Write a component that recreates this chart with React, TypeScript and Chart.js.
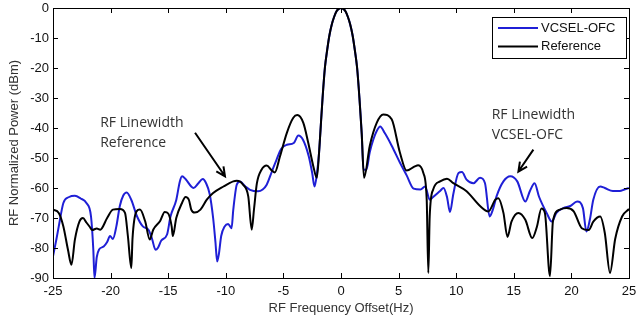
import React, { useEffect, useRef } from "react";
import { Chart, registerables } from "chart.js";

Chart.register(...registerables);

const xTicks = [-25, -20, -15, -10, -5, 0, 5, 10, 15, 20, 25];
const yTicks = [0, -10, -20, -30, -40, -50, -60, -70, -80, -90];

const blueX = [-25, -24.7, -24.5, -24.1, -23.6, -23.1, -22.6, -22.1, -21.7, -21.5, -21.4, -21.2, -21.0, -20.6, -20.3, -20.05, -19.8, -19.5, -19.2, -18.9, -18.6, -18.2, -17.7, -17.2, -16.7, -16.4, -16.1, -15.9, -15.6, -15.1, -14.8, -14.3, -14.0, -13.8, -13.5, -13.0, -12.8, -12.4, -12.0, -11.7, -11.4, -11.1, -10.9, -10.75, -10.6, -10.4, -10.1, -9.8, -9.5, -9.35, -9.05, -8.77, -8.3, -7.9, -7.2, -6.8, -6.45, -6.0, -5.6, -5.2, -4.7, -4.1, -3.7, -3.3, -2.8, -2.5, -2.3, -2.1, -1.9, -1.8, -1.6, -1.4, -1.2, -1.0, -0.8, -0.6, -0.4, -0.2, 0, 0.2, 0.4, 0.6, 0.8, 1.0, 1.2, 1.4, 1.6, 1.8, 1.95, 2.2, 2.5, 2.8, 3.1, 3.4, 3.8, 4.4, 5.1, 5.7, 6.3, 6.9, 7.3, 7.7, 8.0, 8.6, 8.9, 9.2, 9.46, 9.75, 10.2, 10.5, 10.9, 11.5, 12.07, 12.5, 12.9, 13.2, 13.5, 14.1, 14.7, 15.3, 16.0, 16.4, 16.8, 17.2, 17.85, 18.3, 18.7, 19.3, 19.9, 20.5, 21.0, 21.3, 21.6, 21.9, 22.5, 22.9, 23.6, 24.2, 24.6, 25];
const blueY = [-82.8, -77, -72.8, -65, -63, -62.6, -63.5, -65, -69.5, -80.6, -90, -83, -80.5, -79.5, -78, -76, -77, -72.8, -66, -62.5, -61.5, -64, -69.5, -72.8, -74, -77, -80.6, -80, -77.5, -75.5, -69.5, -64, -58, -56.1, -57, -59.5, -60, -58.5, -57, -58.5, -62, -70, -78, -84.5, -82, -76, -72.8, -72, -73.4, -67.2, -58.9, -57.8, -59.5, -60.6, -61.1, -60.5, -58.9, -54.5, -50.6, -47, -45.6, -45, -42.5, -43.9, -49.4, -55, -59.5, -55.5, -48, -42, -30, -20, -14, -9, -5.5, -3, -1.2, -0.3, 0, -0.3, -1.2, -3, -5.5, -9, -14, -20, -30, -42, -53.9, -53.9, -48, -43.9, -41, -39.5, -41.7, -45.9, -51.4, -55.8, -60.2, -60.5, -59.5, -63.9, -63, -61, -60, -63, -68, -62, -55, -54.7, -57.2, -58.4, -56.6, -58.4, -69.5, -67, -62.8, -57.8, -56.1, -57.8, -64.5, -61, -58.4, -63, -68.3, -71.2, -68.3, -66.7, -66, -64.5, -66.7, -74.5, -70.6, -63.9, -59.5, -60, -61, -61, -60.5, -60];

const blackX = [-25, -24.5, -24.1, -23.7, -23.4, -23.1, -22.7, -22.4, -22.1, -21.8, -21.6, -21.2, -20.9, -20.3, -19.8, -19.2, -18.75, -18.5, -18.2, -18.1, -17.75, -17.45, -17.0, -16.6, -16.3, -15.7, -15.3, -15.0, -14.7, -14.6, -14.3, -13.8, -13.5, -13.2, -13.0, -12.7, -12.2, -11.65, -11.1, -10.2, -9.35, -9.05, -8.5, -8.05, -7.75, -7.55, -7.3, -6.9, -6.45, -6.0, -5.75, -5.3, -4.7, -4.14, -3.8, -3.27, -2.84, -2.4, -2.1, -1.9, -1.8, -1.6, -1.4, -1.2, -1.0, -0.8, -0.6, -0.4, -0.2, 0, 0.2, 0.4, 0.6, 0.8, 1.0, 1.2, 1.4, 1.6, 1.8, 2.0, 2.5, 3.1, 3.67, 4.4, 5.1, 5.7, 6.4, 6.7, 7.15, 7.44, 7.58, 7.7, 8.0, 8.6, 9.2, 9.75, 10.9, 12.07, 12.8, 13.4, 13.65, 14.1, 14.45, 14.8, 15.4, 16.0, 16.6, 17.0, 17.4, 17.7, 18.14, 18.4, 19.0, 19.6, 20.2, 20.9, 21.5, 21.9, 22.5, 22.9, 23.35, 23.8, 24.4, 25];
const blackY = [-67.2, -68.3, -72.8, -80.6, -85.6, -77.2, -71.1, -70, -71.5, -73, -74, -73.5, -73.9, -70, -67.2, -67, -68.3, -76, -86.7, -77, -67.8, -67.2, -71.1, -77.2, -73.9, -71, -68, -68.5, -72.8, -76, -70, -65, -63, -64, -67.2, -68.2, -67.2, -63.9, -61.7, -59.5, -57.8, -57.6, -58.9, -62.8, -73.9, -67, -58.4, -53.9, -52.5, -54.2, -54.8, -49.5, -41.6, -36.6, -35.7, -38.3, -45, -52.8, -56.6, -48, -42, -30, -20, -14, -9, -5.5, -3, -1.2, -0.3, 0, -0.3, -1.2, -3, -5.5, -9, -14, -20, -30, -42, -56.6, -45.9, -38.3, -35.5, -37.1, -48, -54.2, -52.8, -52.4, -55, -63.9, -88.3, -69.5, -60.5, -57.8, -56.9, -58.4, -61.1, -66, -67.8, -63.9, -63.4, -68.3, -76.3, -71.2, -68.3, -70.6, -76.7, -73, -66.8, -68.3, -89.4, -71, -67.2, -66.7, -67.8, -73.4, -74, -71.2, -69.5, -75, -88.3, -77, -69.5, -67];

const seriesLabels = ["VCSEL-OFC", "Reference"];
const seriesColors = ["#1f1fd6", "#000000"];

const noteLines1 = ["RF Linewidth", "Reference"];
const noteLines2 = ["RF Linewidth", "VCSEL-OFC"];
// annotation anchors in data units: [x, y]
const note1Pos = [-20.9, -38.2];
const note2Pos = [13.08, -35.6];
const arrow1 = [[-12.67, -41.6], [-10.07, -56.1]];
const arrow2 = [[16.7, -47.2], [15.4, -54.5]];

const pts = (xs: number[], ys: number[]) => xs.map((x, i) => ({ x, y: ys[i] }));

const framePlugin = {
  id: "framePlugin",
  afterDraw(chart: any) {
    const { ctx, chartArea: a, scales } = chart;
    const xs = scales.x;
    const ys = scales.y;
    ctx.save();
    ctx.strokeStyle = "#000";
    ctx.lineWidth = 1;
    ctx.strokeRect(Math.round(a.left) + 0.5, Math.round(a.top) + 0.5, Math.round(a.right - a.left), Math.round(a.bottom - a.top));
    const tl = 5;
    ctx.beginPath();
    xTicks.forEach((v) => {
      const px = Math.round(xs.getPixelForValue(v)) + 0.5;
      ctx.moveTo(px, a.bottom);
      ctx.lineTo(px, a.bottom - tl);
      ctx.moveTo(px, a.top);
      ctx.lineTo(px, a.top + tl);
    });
    yTicks.forEach((v) => {
      const py = Math.round(ys.getPixelForValue(v)) + 0.5;
      ctx.moveTo(a.left, py);
      ctx.lineTo(a.left + tl, py);
      ctx.moveTo(a.right, py);
      ctx.lineTo(a.right - tl, py);
    });
    ctx.stroke();

    // annotations
    ctx.fillStyle = "#333";
    ctx.font = "14px 'Open Sans'";
    ctx.textAlign = "left";
    ctx.textBaseline = "middle";
    const drawNote = (lines: string[], pos: number[]) => {
      const px = xs.getPixelForValue(pos[0]);
      const py = ys.getPixelForValue(pos[1]);
      lines.forEach((t, i) => ctx.fillText(t, px, py + i * 20));
    };
    drawNote(noteLines1, note1Pos);
    drawNote(noteLines2, note2Pos);
    const drawArrow = (ar: number[][]) => {
      const x0 = xs.getPixelForValue(ar[0][0]);
      const y0 = ys.getPixelForValue(ar[0][1]);
      const x1 = xs.getPixelForValue(ar[1][0]);
      const y1 = ys.getPixelForValue(ar[1][1]);
      const ang = Math.atan2(y1 - y0, x1 - x0);
      ctx.strokeStyle = "#000";
      ctx.lineWidth = 2;
      ctx.beginPath();
      ctx.moveTo(x0, y0);
      ctx.lineTo(x1, y1);
      const h = 10;
      ctx.moveTo(x1 - h * Math.cos(ang - 0.45), y1 - h * Math.sin(ang - 0.45));
      ctx.lineTo(x1, y1);
      ctx.lineTo(x1 - h * Math.cos(ang + 0.45), y1 - h * Math.sin(ang + 0.45));
      ctx.stroke();
    };
    drawArrow(arrow1);
    drawArrow(arrow2);

    // legend box
    const bw = 134;
    const bh = 41;
    const bx = Math.round(a.right) - 3 - bw;
    const by = Math.round(a.top) + 9;
    ctx.fillStyle = "#fff";
    ctx.fillRect(bx, by, bw, bh);
    ctx.strokeStyle = "#000";
    ctx.lineWidth = 1;
    ctx.strokeRect(bx + 0.5, by + 0.5, bw, bh);
    ctx.font = "13px 'Liberation Sans'";
    ctx.textBaseline = "middle";
    seriesLabels.forEach((lab, i) => {
      const ly = by + 11 + i * 18.5;
      ctx.strokeStyle = seriesColors[i];
      ctx.lineWidth = 2;
      ctx.beginPath();
      ctx.moveTo(bx + 6, ly);
      ctx.lineTo(bx + 46, ly);
      ctx.stroke();
      ctx.fillStyle = "#111";
      ctx.fillText(lab, bx + 49, ly);
    });
    ctx.restore();
  },
};

export default function App() {
  const ref = useRef<HTMLCanvasElement | null>(null);
  useEffect(() => {
    document.body.style.margin = "0";
    const chart = new Chart(ref.current as HTMLCanvasElement, {
      type: "line",
      data: {
        datasets: [
          {
            label: seriesLabels[0],
            data: pts(blueX, blueY),
            borderColor: seriesColors[0],
            borderWidth: 2,
            pointRadius: 0,
            tension: 0.3,
            cubicInterpolationMode: "monotone",
            order: 1,
          },
          {
            label: seriesLabels[1],
            data: pts(blackX, blackY),
            borderColor: seriesColors[1],
            borderWidth: 2,
            pointRadius: 0,
            tension: 0.3,
            cubicInterpolationMode: "monotone",
            order: 0,
          },
        ],
      },
      options: {
        animation: false,
        responsive: false,
        devicePixelRatio: 1,
        layout: { padding: { top: 8, right: 7, left: 0, bottom: 0 } },
        plugins: { legend: { display: false }, tooltip: { enabled: false } },
        scales: {
          x: {
            type: "linear",
            min: -25,
            max: 25,
            grid: { display: false, drawTicks: false },
            border: { display: false },
            afterBuildTicks: (s: any) => {
              s.ticks = xTicks.map((v) => ({ value: v }));
            },
            afterFit: (s: any) => {
              s.height = 43;
              s.paddingLeft = 0;
              s.paddingRight = 0;
            },
            ticks: { color: "#111", font: { family: "'Liberation Sans'", size: 13 }, padding: 6, maxRotation: 0 },
            title: {
              display: true,
              text: "RF Frequency Offset(Hz)",
              color: "#333",
              font: { family: "'Liberation Sans'", size: 13 },
              padding: { top: 0, bottom: 5 },
            },
          },
          y: {
            type: "linear",
            min: -90,
            max: 0,
            grid: { display: false, drawTicks: false },
            border: { display: false },
            afterBuildTicks: (s: any) => {
              s.ticks = yTicks.map((v) => ({ value: v }));
            },
            afterFit: (s: any) => {
              s.width = 53;
              s.paddingTop = 0;
              s.paddingBottom = 0;
            },
            ticks: { color: "#111", font: { family: "'Liberation Sans'", size: 13 }, padding: 4 },
            title: {
              display: true,
              text: "RF Normalized Power (dBm)",
              color: "#333",
              font: { family: "'Liberation Sans'", size: 13 },
              padding: { top: 7, bottom: 0 },
            },
          },
        },
      },
      plugins: [framePlugin],
    } as any);
    return () => chart.destroy();
  }, []);
  return (
    <div style={{ position: "absolute", left: 0, top: 0, width: 636, height: 321, background: "#fff" }}>
      <canvas ref={ref} width={636} height={321} />
    </div>
  );
}
